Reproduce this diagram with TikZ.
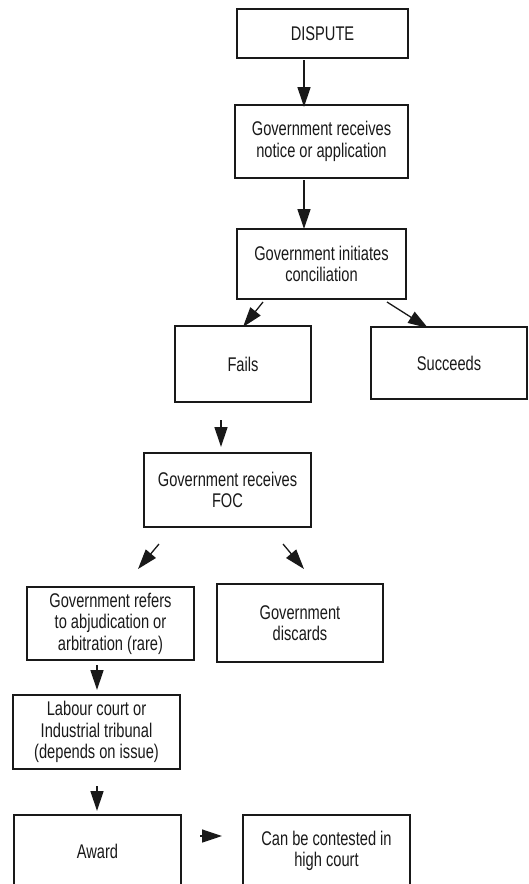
\documentclass[tikz,border=0pt]{standalone}
\usepackage{fontspec}
\setmainfont{Liberation Sans}[FakeStretch=0.74]
\usetikzlibrary{arrows.meta}
\definecolor{ink}{RGB}{25,25,25}
\tikzset{
  box/.style={draw=ink, line width=1.2pt, rectangle, align=center, inner sep=0pt,
    text=ink, font=\fontsize{19.8}{21.5}\selectfont},
  arr/.style={draw=ink, line width=1.3pt, -{Triangle[length=20pt,width=13pt]}}
}
\begin{document}
\begin{tikzpicture}[x=1pt,y=-1pt]
\useasboundingbox (0,0) rectangle (529,884);
\clip (0,0) rectangle (529,884);
\fill[white] (0,0) rectangle (529,884);
% boxes
\node[box, minimum width=171pt, minimum height=49pt] (dispute) at (322.5,33.5) {DISPUTE};
\node[box, minimum width=173pt, minimum height=73pt] (notice) at (321.5,141.5) {Government receives\\notice or application};
\node[box, minimum width=169pt, minimum height=70pt] (concil) at (321.5,264) {Government initiates\\conciliation};
\node[box, minimum width=136pt, minimum height=76pt] (fails) at (243,364) {Fails};
\node[box, minimum width=156pt, minimum height=72pt] (succ) at (449,363) {Succeeds};
\node[box, minimum width=167pt, minimum height=74pt] (foc) at (227.5,490) {Government receives\\FOC};
\node[box, minimum width=167pt, minimum height=73pt] (refers) at (110.5,623.5) {Government refers\\to abjudication or\\arbitration (rare)};
\node[box, minimum width=166pt, minimum height=78pt] (discards) at (300,623) {Government\\discards};
\node[box, minimum width=167pt, minimum height=74pt] (labour) at (96.5,732) {Labour court or\\Industrial tribunal\\(depends on issue)};
\node[box, minimum width=167pt, minimum height=72pt] (award) at (97.5,851) {Award};
\node[box, minimum width=167pt, minimum height=72pt] (contest) at (326.5,851) {Can be contested in\\high court};
% arrow end points
\coordinate (a1s) at (304,60);  \coordinate (a1e) at (304,107);
\coordinate (a2s) at (304,180); \coordinate (a2e) at (304,229);
\coordinate (a3s) at (263,302); \coordinate (a3e) at (243,327);
\coordinate (a4s) at (387,302); \coordinate (a4e) at (428,328);
\coordinate (a5s) at (221,420); \coordinate (a5e) at (221,447);
\coordinate (a6s) at (159,544); \coordinate (a6e) at (138,569);
\coordinate (a7s) at (283,544); \coordinate (a7e) at (304,569);
\coordinate (a8s) at (97,665);  \coordinate (a8e) at (97,690);
\coordinate (a9s) at (97,786);  \coordinate (a9e) at (97,811);
\coordinate (a10s) at (200,836); \coordinate (a10e) at (222,836);
\draw[arr] (a1s) -- (a1e);
\draw[arr] (a2s) -- (a2e);
\draw[arr] (a3s) -- (a3e);
\draw[arr] (a4s) -- (a4e);
\draw[arr] (a5s) -- (a5e);
\draw[arr] (a6s) -- (a6e);
\draw[arr] (a7s) -- (a7e);
\draw[arr] (a8s) -- (a8e);
\draw[arr] (a9s) -- (a9e);
\draw[arr] (a10s) -- (a10e);
\end{tikzpicture}
\end{document}
